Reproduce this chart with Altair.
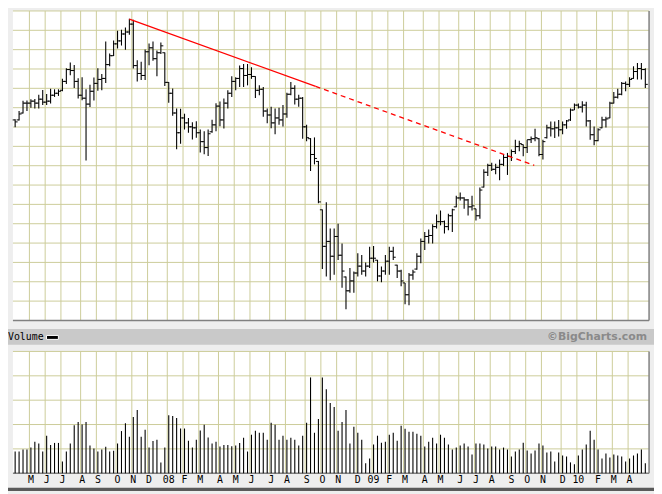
import altair as alt
import pandas as pd

# ---------------- data (weekly bars) ----------------
FIRST_WEEK = "2007-04-08"          # weeks dated by their Sunday
MONTH_LETTERS = ["J", "F", "M", "A", "M", "J", "J", "A", "S", "O", "N", "D"]
MIN_BARS_FOR_LABEL = 2             # a month with fewer bars at the right end gets no grid line / label

HIGH = [
    20.36, 21.20, 22.23, 22.26, 22.40, 22.43, 22.86, 23.33, 22.93, 23.46,
    23.40, 23.40, 24.46, 25.53, 26.11, 25.86, 24.53, 24.63, 23.40, 23.86,
    24.60, 25.53, 24.96, 28.23, 27.03, 28.33, 29.33, 29.43, 29.66, 30.53,
    30.43, 26.33, 26.18, 27.43, 28.03, 28.23, 27.33, 28.13, 27.13, 24.13,
    23.48, 21.46, 21.43, 20.93, 20.50, 20.06, 20.16, 19.33, 19.16, 19.33,
    20.33, 22.00, 22.16, 22.48, 23.30, 24.73, 24.63, 25.80, 25.96, 25.96,
    25.63, 24.73, 23.80, 23.63, 21.46, 21.63, 21.46, 21.53, 21.80, 23.06,
    24.13, 23.80, 22.86, 22.63, 19.80, 18.46, 18.53, 16.13, 11.23, 11.96,
    9.30, 9.30, 9.80, 7.80, 4.46, 5.30, 4.96, 6.80, 6.63, 5.86,
    7.46, 7.53, 6.13, 5.46, 6.63, 7.46, 7.46, 5.63, 5.13, 3.80,
    4.80, 5.13, 6.80, 8.30, 8.96, 9.20, 9.73, 10.73, 11.13, 10.13,
    10.80, 11.30, 12.63, 12.96, 12.46, 12.30, 12.63, 11.30, 13.46, 15.30,
    15.86, 15.96, 15.86, 16.30, 16.80, 16.96, 17.30, 18.30, 18.20, 17.80,
    18.30, 18.63, 19.40, 18.46, 18.30, 19.80, 20.13, 20.13, 20.30, 20.13,
    20.30, 21.46, 21.96, 21.96, 22.20, 22.13, 20.30, 19.63, 19.46, 20.63,
    20.63, 22.13, 23.13, 23.46, 24.13, 24.20, 24.63, 25.73, 26.06, 26.06,
    25.53,
]
LOW = [
    19.56, 20.23, 20.96, 21.20, 21.53, 21.46, 21.46, 21.80, 21.80, 21.96,
    22.63, 22.73, 23.20, 23.93, 24.83, 23.53, 22.46, 22.30, 16.20, 21.60,
    22.26, 23.26, 23.30, 24.03, 25.73, 26.76, 27.53, 27.83, 27.40, 28.93,
    25.50, 24.18, 24.33, 24.33, 25.83, 26.28, 24.73, 26.98, 23.73, 22.03,
    20.73, 17.33, 17.88, 19.33, 19.00, 18.33, 18.50, 17.00, 16.83, 16.66,
    19.00, 19.16, 19.66, 19.43, 21.46, 22.63, 23.30, 23.63, 23.63, 23.80,
    24.46, 22.53, 22.80, 20.63, 19.96, 19.46, 18.86, 19.80, 19.63, 20.53,
    22.80, 21.86, 21.63, 18.40, 18.13, 15.13, 15.80, 11.86, 5.20, 4.46,
    4.06, 4.63, 6.13, 3.30, 1.13, 2.80, 2.80, 4.46, 4.63, 4.46,
    5.30, 5.86, 3.96, 3.86, 4.63, 4.63, 6.13, 4.30, 3.46, 1.63,
    1.53, 4.13, 5.13, 5.80, 7.13, 7.80, 7.80, 9.30, 9.63, 8.80,
    9.13, 8.96, 11.46, 12.13, 11.30, 10.63, 11.13, 10.13, 10.30, 13.46,
    14.63, 15.13, 14.80, 14.20, 15.63, 14.73, 16.13, 16.86, 17.13, 16.63,
    16.96, 17.96, 18.13, 16.63, 16.30, 18.43, 18.63, 18.46, 18.63, 18.86,
    19.40, 20.20, 21.30, 21.46, 21.06, 19.63, 18.30, 17.73, 18.13, 19.46,
    19.53, 20.46, 21.96, 22.46, 22.80, 23.20, 23.63, 24.46, 24.40, 24.40,
    23.53,
]
OPEN = [
    20.3, 20.3, 21.0, 22.0, 22.0, 22.2, 22.0, 22.4, 22.1, 22.2,
    22.8, 23.0, 23.3, 24.2, 25.4, 25.3, 24.2, 22.8, 22.5, 21.9,
    23.2, 24.0, 24.4, 24.5, 25.9, 26.8, 28.0, 28.3, 29.0, 29.2,
    30.0, 25.8, 25.0, 24.8, 27.2, 27.6, 26.5, 27.1, 27.1, 24.1,
    23.0, 21.0, 19.0, 20.5, 20.0, 19.6, 19.5, 19.0, 18.1, 17.5,
    19.1, 19.8, 21.7, 20.3, 22.0, 23.0, 24.2, 24.5, 25.5, 24.8,
    24.9, 24.7, 23.3, 23.4, 21.2, 20.8, 20.0, 20.5, 20.3, 20.9,
    22.9, 23.5, 22.4, 22.5, 19.6, 18.4, 16.8, 16.1, 11.2, 7.5,
    8.0, 6.5, 8.5, 6.6, 4.4, 3.0, 4.0, 4.8, 5.5, 5.0,
    5.5, 6.3, 6.1, 4.5, 5.0, 6.0, 7.0, 5.6, 5.0, 3.8,
    2.6, 4.6, 5.2, 6.5, 8.0, 8.5, 8.6, 9.5, 10.0, 10.0,
    9.5, 10.6, 11.5, 12.4, 12.4, 12.2, 11.5, 11.3, 10.6, 13.5,
    15.0, 15.7, 15.3, 15.5, 15.8, 16.5, 16.6, 17.1, 17.6, 17.8,
    17.5, 18.3, 18.4, 18.4, 16.8, 18.5, 19.5, 19.4, 19.5, 19.3,
    19.8, 20.3, 21.3, 21.8, 21.6, 21.8, 20.2, 18.8, 18.2, 19.5,
    20.3, 20.5, 22.0, 22.6, 22.9, 24.0, 23.9, 24.5, 25.2, 25.5,
    25.4,
]
CLOSE = [
    20.1, 20.9, 22.0, 22.0, 22.2, 22.0, 22.4, 22.1, 22.2, 22.8,
    23.0, 23.2, 24.2, 25.4, 25.3, 24.2, 22.8, 22.5, 21.9, 23.2,
    24.0, 24.4, 24.5, 25.9, 26.8, 28.0, 28.3, 29.0, 29.2, 30.0,
    25.8, 25.0, 24.8, 27.2, 27.6, 26.5, 27.1, 27.8, 24.1, 23.0,
    21.0, 19.0, 20.5, 20.0, 19.6, 19.5, 19.0, 18.1, 17.5, 18.9,
    19.8, 21.7, 20.3, 22.0, 23.0, 24.2, 24.5, 25.5, 24.8, 24.9,
    24.7, 23.3, 23.4, 21.2, 20.8, 20.0, 20.5, 20.3, 20.9, 22.9,
    23.5, 22.4, 22.5, 19.6, 18.5, 16.8, 16.4, 12.0, 7.5, 8.0,
    6.5, 8.5, 6.6, 5.0, 3.0, 4.0, 4.8, 5.5, 5.0, 5.5,
    6.3, 6.3, 4.5, 5.0, 6.0, 7.0, 6.4, 5.0, 4.0, 2.6,
    4.6, 4.9, 6.5, 8.0, 8.5, 8.6, 9.5, 10.0, 10.0, 9.5,
    10.6, 11.2, 12.4, 12.4, 12.2, 11.5, 11.6, 10.6, 13.2, 15.0,
    15.7, 15.3, 15.5, 15.8, 16.5, 16.6, 17.1, 17.6, 17.9, 17.5,
    18.3, 18.4, 18.5, 16.8, 18.1, 19.5, 19.4, 19.5, 19.3, 19.8,
    20.2, 21.3, 21.8, 21.6, 21.8, 20.2, 18.8, 18.2, 19.3, 20.3,
    20.4, 22.0, 22.6, 22.9, 24.0, 23.9, 24.4, 25.2, 25.5, 25.4,
    23.9,
]
VOLUME = [
    2.2, 2.2, 2.4, 2.4, 2.6, 3.2, 3.0, 2.2, 3.8, 2.87,
    3.07, 3.07, 1.2, 2.2, 3.0, 4.87, 5.2, 4.93, 5.2, 2.8,
    2.5, 2.2, 2.4, 2.67, 2.2, 2.27, 3.0, 4.27, 5.07, 3.7,
    5.7, 6.4, 3.7, 4.4, 2.6, 3.27, 3.4, 1.1, 2.6, 5.87,
    5.8, 5.6, 4.53, 4.53, 3.3, 2.6, 3.4, 4.33, 4.9, 3.63,
    3.0, 3.2, 2.7, 2.87, 2.87, 2.73, 2.8, 3.07, 3.6, 2.2,
    3.9, 4.3, 4.1, 4.1, 3.4, 5.1, 4.9, 3.4, 3.8, 3.4,
    3.6, 3.4, 2.8, 3.8, 5.1, 9.7, 4.1, 5.5, 9.7, 8.5,
    7.1, 6.7, 4.3, 5.2, 6.4, 3.0, 4.7, 4.1, 3.4, 1.0,
    1.5, 2.9, 3.8, 3.1, 3.2, 3.9, 4.1, 3.3, 4.8, 4.5,
    4.2, 4.2, 4.0, 3.8, 2.7, 3.2, 3.6, 3.0, 3.9, 3.6,
    2.9, 2.4, 2.6, 2.8, 3.0, 2.7, 1.9, 3.0, 3.0, 2.9,
    2.5, 2.7, 2.7, 2.4, 2.6, 2.4, 1.7, 2.2, 2.4, 3.1,
    2.3, 2.0, 2.3, 3.0, 2.8, 2.1, 2.2, 1.2, 2.1, 1.8,
    1.7, 1.1, 0.9, 1.8, 2.4, 2.9, 4.3, 3.4, 2.4, 1.5,
    2.0, 1.6, 1.9, 1.8, 1.7, 1.2, 1.5, 1.8, 2.0, 2.4,
    1.0,
]
# trend line: (week index, price) of its start, of the end of the solid part, of its end
TREND_X = [29.0, 76.3, 131.8]
TREND_Y = [30.5, 23.69, 15.7]

# ---------------- scales / layout ----------------
X_DOM = [-0.56, 160.95]
P_DOM = [0.0, 31.33]
V_DOM = [0.0, 12.33]
P_ROWS = 16
V_ROWS = 5
GRID = "#cccc99"
BORDER = "#808080"

xs = alt.Scale(domain=X_DOM, range=[5, 649], nice=False, zero=False)
ps = alt.Scale(domain=P_DOM, range=[313.3, 0], nice=False, zero=False)
vs = alt.Scale(domain=V_DOM, range=[468, 344.7], nice=False, zero=False)


def X(f):
    return alt.X(f"{f}:Q", scale=xs, axis=None)


def PY(f):
    return alt.Y(f"{f}:Q", scale=ps, axis=None)


def VY(f):
    return alt.Y(f"{f}:Q", scale=vs, axis=None)


n = len(HIGH)
dates = pd.date_range(FIRST_WEEK, periods=n, freq="7D")
bars = pd.DataFrame({"i": list(range(n)), "high": HIGH, "low": LOW,
                     "open": OPEN, "close": CLOSE, "vol": VOLUME})
bars["zero"] = 0.0

mon = pd.Series(dates.month)
new_month = mon.ne(mon.shift(1))
idx = [k for k in range(1, n - MIN_BARS_FOR_LABEL + 1) if new_month[k]]
month_df = pd.DataFrame({
    "i": idx,
    "label": [f"{dates[k].year % 100:02d}" if dates[k].month == 1
              else MONTH_LETTERS[dates[k].month - 1] for k in idx],
})
month_df["p0"] = P_DOM[0]
month_df["p1"] = P_DOM[1]
month_df["v0"] = V_DOM[0]
month_df["v1"] = V_DOM[1]

p_panel = pd.DataFrame({"x0": [X_DOM[0]], "x1": [X_DOM[1]], "y0": [P_DOM[0]], "y1": [P_DOM[1]]})
v_panel = pd.DataFrame({"x0": [X_DOM[0]], "x1": [X_DOM[1]], "y0": [V_DOM[0]], "y1": [V_DOM[1]]})
p_grid = pd.DataFrame({"p": [P_DOM[1] * k / P_ROWS for k in range(1, P_ROWS + 1)]})
p_grid["x0"] = X_DOM[0]
p_grid["x1"] = X_DOM[1]
v_grid = pd.DataFrame({"v": [V_DOM[1] * k / V_ROWS for k in range(1, V_ROWS + 1)]})
v_grid["x0"] = X_DOM[0]
v_grid["x1"] = X_DOM[1]

trend = pd.DataFrame({"x0": TREND_X[:-1], "x1": TREND_X[1:],
                      "y0": TREND_Y[:-1], "y1": TREND_Y[1:]})
one = pd.DataFrame({"a": [0]})

layers = [
    # panels
    alt.Chart(p_panel).mark_rect(fill="white").encode(x=X("x0"), x2="x1", y=PY("y0"), y2="y1"),
    alt.Chart(v_panel).mark_rect(fill="white").encode(x=X("x0"), x2="x1", y=VY("y0"), y2="y1"),
    alt.Chart(p_grid).mark_rule(color=GRID, strokeWidth=1).encode(x=X("x0"), x2="x1", y=PY("p")),
    alt.Chart(month_df).mark_rule(color=GRID, strokeWidth=1, xOffset=-1.5).encode(x=X("i"), y=PY("p0"), y2="p1"),
    alt.Chart(v_grid).mark_rule(color=GRID, strokeWidth=1).encode(x=X("x0"), x2="x1", y=VY("v")),
    alt.Chart(month_df).mark_rule(color=GRID, strokeWidth=1, xOffset=-1.5).encode(x=X("i"), y=VY("v0"), y2="v1"),
    alt.Chart(p_panel).mark_rule(color=BORDER, strokeWidth=1.5).encode(x=X("x0"), x2="x1", y=PY("y0")),
    alt.Chart(p_panel).mark_rule(color=BORDER, strokeWidth=1.5).encode(x=X("x1"), y=PY("y0"), y2="y1"),
    alt.Chart(v_panel).mark_rule(color=BORDER, strokeWidth=1.5).encode(x=X("x0"), x2="x1", y=VY("y0")),
    alt.Chart(v_panel).mark_rule(color=BORDER, strokeWidth=1.5).encode(x=X("x1"), y=VY("y0"), y2="y1"),
    # price bars
    alt.Chart(bars).mark_rule(color="black", strokeWidth=1.1).encode(x=X("i"), y=PY("low"), y2="high"),
    alt.Chart(bars).mark_rule(color="black", strokeWidth=1, xOffset=-2.5).encode(x=X("i"), x2="i", y=PY("open")),
    alt.Chart(bars).mark_rule(color="black", strokeWidth=1, x2Offset=2.5).encode(x=X("i"), x2="i", y=PY("close")),
    # trend line
    alt.Chart(trend.iloc[[0]]).mark_rule(color="#ff0000", strokeWidth=1.3).encode(
        x=X("x0"), x2="x1", y=PY("y0"), y2="y1"),
    alt.Chart(trend.iloc[[1]]).mark_rule(color="#ff0000", strokeWidth=1.3, strokeDash=[5, 4]).encode(
        x=X("x0"), x2="x1", y=PY("y0"), y2="y1"),
    # volume
    alt.Chart(bars).mark_rule(color="black", strokeWidth=1.1).encode(x=X("i"), y=VY("vol"), y2="zero"),
    # volume band
    alt.Chart(one).mark_rect(color="#c9c9c9").encode(
        x=alt.value(0), x2=alt.value(654), y=alt.value(322), y2=alt.value(338)),
    alt.Chart(one).mark_text(text="Volume", font="DejaVu Sans Mono", fontSize=10, align="left",
                             baseline="middle", color="black").encode(x=alt.value(0), y=alt.value(330.5)),
    alt.Chart(one).mark_rect(color="black", stroke="white", strokeWidth=1).encode(
        x=alt.value(39), x2=alt.value(51), y=alt.value(328.5), y2=alt.value(332.5)),
    alt.Chart(one).mark_text(text="©BigCharts.com", font="DejaVu Sans", fontWeight="bold", fontSize=11,
                             align="right", baseline="middle", color="#8a8a8a").encode(
        x=alt.value(647), y=alt.value(330.5)),
    # month labels
    alt.Chart(month_df).mark_text(font="DejaVu Sans Mono", fontSize=10, align="center",
                                  baseline="middle", color="black").encode(
        x=X("i"), y=alt.value(474.5), text="label:N"),
    alt.Chart(one).mark_rect(color="#5a5a5a").encode(
        x=alt.value(0), x2=alt.value(654), y=alt.value(482.7), y2=alt.value(486)),
]

chart = alt.layer(*layers).resolve_scale(y="independent").properties(
    width=654, height=486,
    autosize=alt.AutoSizeParams(type="none"),
    padding=0,
    background="#eeeeee",
).configure_view(strokeWidth=0)

chart.save("out.html", embed_options={"renderer": "svg", "actions": False})
